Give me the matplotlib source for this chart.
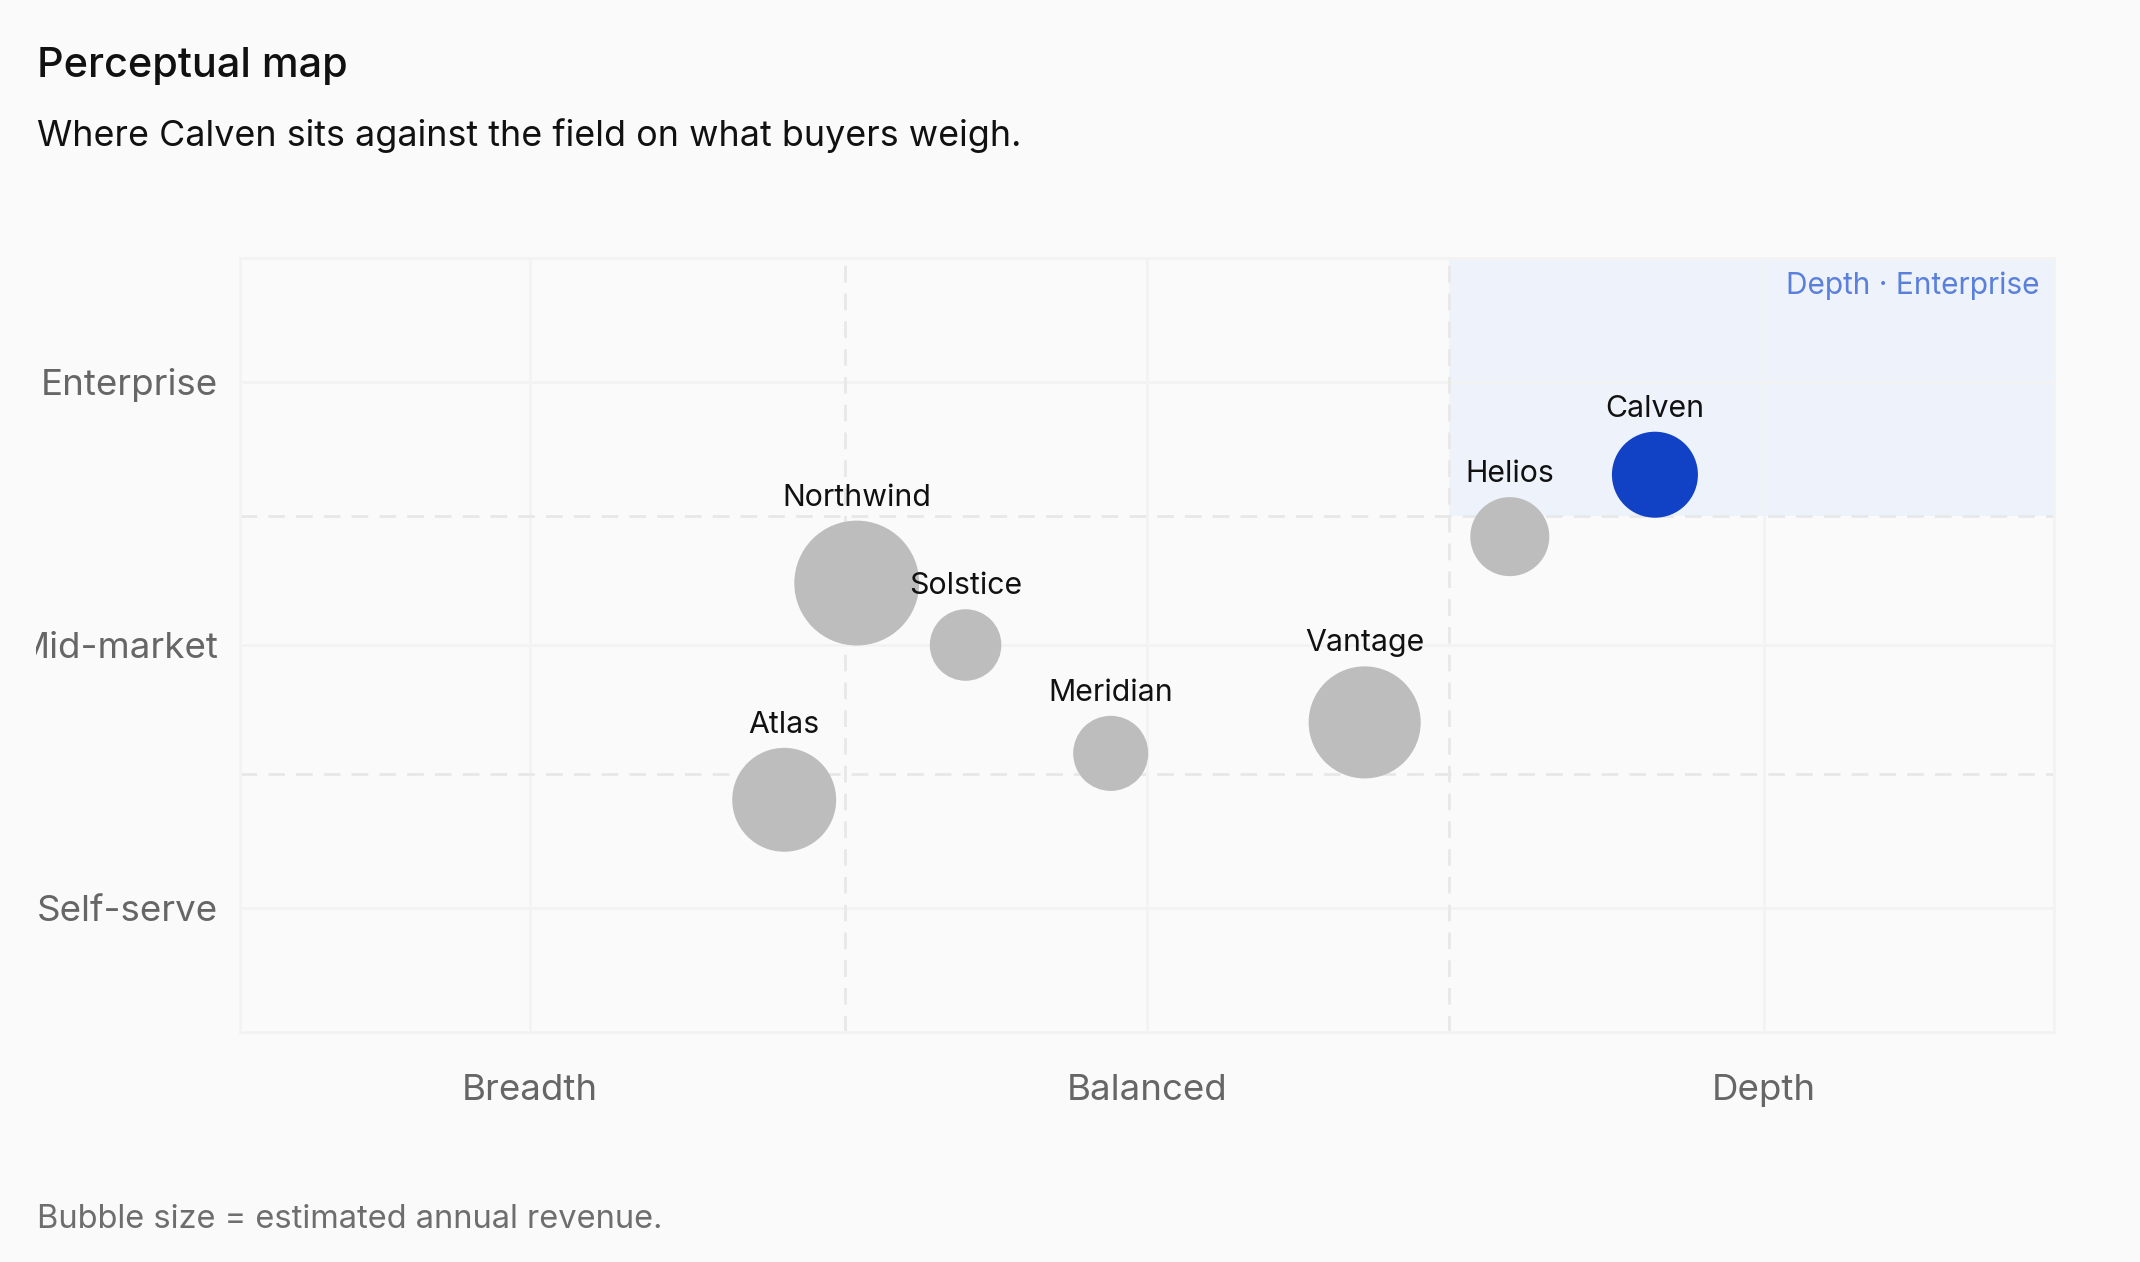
"""Perceptual map: where Calven sits against the field."""

import matplotlib

matplotlib.use("Agg")
import matplotlib.pyplot as plt
import numpy as np
from matplotlib.patches import Rectangle
from matplotlib.transforms import Bbox, TransformedBbox

plt.rcParams["font.family"] = ["Inter", "DejaVu Sans"]

# --- data -------------------------------------------------------------
companies = ["Calven", "Helios", "Northwind", "Solstice", "Meridian", "Vantage", "Atlas"]
focus = [0.70, 0.50, -0.40, -0.25, -0.05, 0.30, -0.50]      # breadth (-) .. depth (+)
segment = [0.55, 0.35, 0.20, 0.00, -0.35, -0.25, -0.50]     # self-serve (-) .. enterprise (+)
revenue = [185, 156, 390, 128, 141, 314, 270]               # est. annual revenue, $M
highlight = "Calven"

x_tick_pos = [-0.85, 0.0, 0.85]
x_tick_labels = ["Breadth", "Balanced", "Depth"]
y_tick_pos = [-0.85, 0.0, 0.85]
y_tick_labels = ["Self-serve", "Mid-market", "Enterprise"]
LIM = 1.25
CUT = LIM / 3

BG = "#fafafa"
GRID = "#f3f3f3"
DASH = "#e8e8e8"
GREY = "#bdbdbd"
BLUE = "#1142c6"
DPI = 100
PX = 72 / DPI  # points per pixel

fig = plt.figure(figsize=(21.4, 12.62), dpi=DPI, facecolor=BG)
ax = fig.add_axes([240 / 2140, 1 - 1032 / 1262, 1814 / 2140, 774 / 1262])
ax.set_facecolor(BG)
ax.set_xlim(-LIM, LIM)
ax.set_ylim(-LIM, LIM)

# highlighted quadrant
ax.add_patch(Rectangle((CUT, CUT), LIM - CUT, LIM - CUT, facecolor="#eef2fb",
                       edgecolor="none", zorder=0))
ax.annotate("Depth · Enterprise", xy=(LIM, LIM), xytext=(-14 * PX, -36 * PX),
            textcoords="offset points", ha="right", va="baseline",
            fontsize=21.5, color="#5a80dc")

# grid
ax.set_xticks(x_tick_pos, x_tick_labels)
ax.set_yticks(y_tick_pos, y_tick_labels)
ax.grid(True, color=GRID, linewidth=2, zorder=1)
ax.set_axisbelow(True)
for v in (-CUT, CUT):
    ax.axvline(v, color=DASH, linewidth=2, dashes=(6, 4), zorder=1)
    ax.axhline(v, color=DASH, linewidth=2, dashes=(6, 4), zorder=1)
for s in ax.spines.values():
    s.set_color(GRID)
    s.set_linewidth(2)

ax.tick_params(length=0, labelsize=26.4, labelcolor="#666666")
ax.tick_params(axis="x", pad=30)
ax.tick_params(axis="y", pad=15.6)

# bubbles
radius_px = np.sqrt(np.array(revenue) * 10.0)
sizes = (2 * radius_px * PX) ** 2
colors = [BLUE if c == highlight else GREY for c in companies]
ax.scatter(focus, segment, s=sizes, c=colors, linewidths=0, zorder=3)
for name, xv, yv, r in zip(companies, focus, segment, radius_px):
    ax.annotate(name, xy=(xv, yv), xytext=(0, (r + 15) * PX),
                textcoords="offset points", ha="center", va="baseline",
                fontsize=21.8, color="#111111", zorder=4)

# the y labels get cut off at the chart's left padding
clip = TransformedBbox(Bbox.from_extents(36 / 2140, 0, 1, 1), fig.transFigure)
for lbl in ax.get_yticklabels():
    lbl.set_clip_box(clip)
    lbl.set_clip_on(True)

# titles
fig.text(37 / 2140, 1 - 76.7 / 1262, "Perceptual map", fontsize=29.8,
         fontweight="medium", color="#111111", va="baseline")
fig.text(37 / 2140, 1 - 145.7 / 1262,
         "Where Calven sits against the field on what buyers weigh.",
         fontsize=25.8, color="#111111", va="baseline")
fig.text(37 / 2140, 1 - 1228.3 / 1262, "Bubble size = estimated annual revenue.",
         fontsize=23.5, color="#6e6e6e", va="baseline")

fig.savefig("out.png", dpi=DPI, facecolor=BG)
